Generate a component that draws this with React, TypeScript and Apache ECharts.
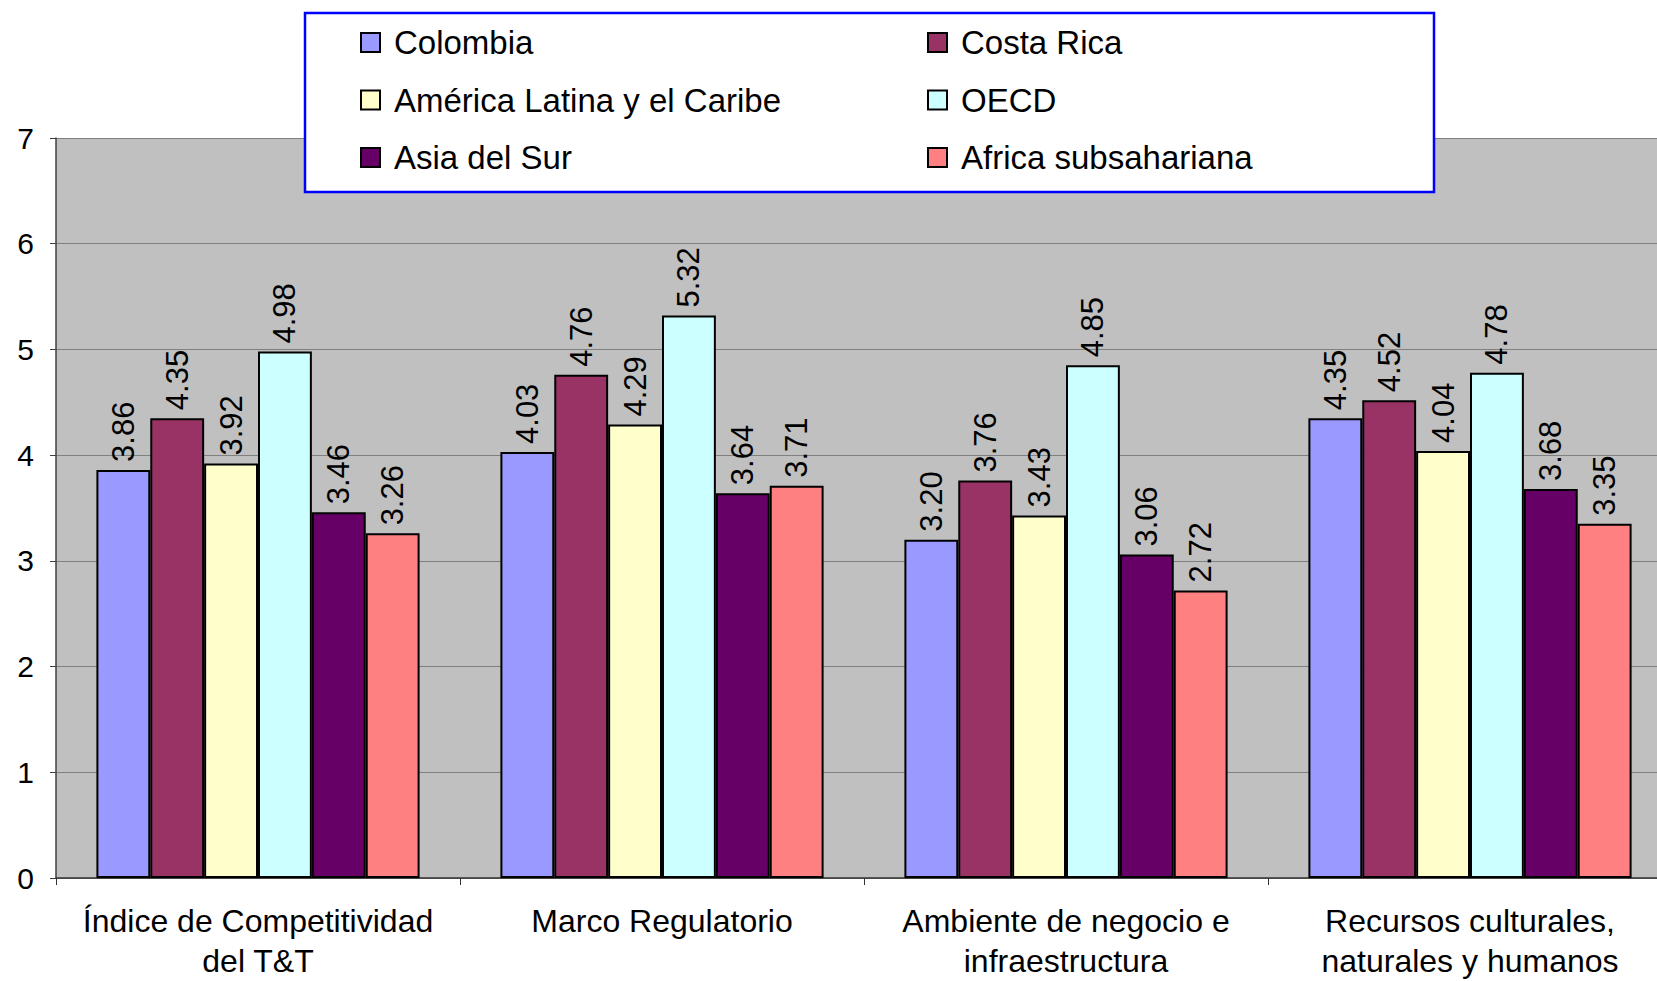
import React, { useEffect, useRef } from "react";
import * as echarts from "echarts";

const categories = [
  "Índice de Competitividad\ndel T&T",
  "Marco Regulatorio",
  "Ambiente de negocio e\ninfraestructura",
  "Recursos culturales,\nnaturales y humanos",
];
const seriesNames = [
  "Colombia",
  "Costa Rica",
  "América Latina y el Caribe",
  "OECD",
  "Asia del Sur",
  "Africa subsahariana",
];
const colombia = [3.86, 4.03, 3.2, 4.35];
const costaRica = [4.35, 4.76, 3.76, 4.52];
const americaLatina = [3.92, 4.29, 3.43, 4.04];
const oecd = [4.98, 5.32, 4.85, 4.78];
const asiaSur = [3.46, 3.64, 3.06, 3.68];
const africa = [3.26, 3.71, 2.72, 3.35];
const yTicks = [0, 1, 2, 3, 4, 5, 6, 7];

const colors = ["#9999FF", "#993366", "#FFFFCC", "#CCFFFF", "#660066", "#FF8080"];
const values = [colombia, costaRica, americaLatina, oecd, asiaSur, africa];
const FONT = "'Liberation Sans', Arial, sans-serif";

export default function App() {
  const ref = useRef<HTMLDivElement>(null);
  useEffect(() => {
    if (!ref.current) return;
    const chart = echarts.init(ref.current, null, { renderer: "svg" });
    const legendText = {
      fontSize: 33,
      fontFamily: FONT,
      color: "#000",
      lineHeight: 30,
      padding: [0, 0, 0, 9],
    };
    chart.setOption({
      animation: false,
      backgroundColor: "#fff",
      textStyle: { fontFamily: FONT },
      grid: {
        left: 56,
        top: 138,
        bottom: 103,
        width: 1616,
        outerBoundsMode: "none",
        containLabel: false,
        show: true,
        backgroundColor: "#C0C0C0",
        borderWidth: 0,
      },
      graphic: [
        {
          type: "rect",
          z: 10,
          shape: { x: 305, y: 13, width: 1129, height: 179 },
          style: { fill: "#fff", stroke: "#0000FF", lineWidth: 2.5 },
        },
      ],
      legend: [
        {
          z: 20,
          orient: "vertical",
          left: 360,
          top: 26,
          padding: 0,
          itemGap: 24.5,
          itemWidth: 19,
          itemHeight: 19,
          icon: "rect",
          itemStyle: { borderColor: "#000", borderWidth: 2 },
          textStyle: legendText,
          data: [seriesNames[0], seriesNames[2], seriesNames[4]],
        },
        {
          z: 20,
          orient: "vertical",
          left: 927,
          top: 26,
          padding: 0,
          itemGap: 24.5,
          itemWidth: 19,
          itemHeight: 19,
          icon: "rect",
          itemStyle: { borderColor: "#000", borderWidth: 2 },
          textStyle: legendText,
          data: [seriesNames[1], seriesNames[3], seriesNames[5]],
        },
      ],
      xAxis: {
        type: "category",
        data: categories,
        axisLine: { show: true, lineStyle: { color: "#333", width: 1.5 } },
        axisTick: { show: true, length: 7, lineStyle: { color: "#333" } },
        axisLabel: {
          interval: 0,
          margin: 23,
          fontSize: 32,
          lineHeight: 40,
          color: "#000",
          fontFamily: FONT,
          hideOverlap: false,
        },
        splitLine: { show: false },
      },
      yAxis: {
        type: "value",
        min: yTicks[0],
        max: yTicks[yTicks.length - 1],
        interval: 1,
        axisLine: { show: true, lineStyle: { color: "#404040", width: 1.5 } },
        axisTick: { show: true, length: 6, lineStyle: { color: "#404040" } },
        axisLabel: {
          margin: 22,
          fontSize: 30,
          color: "#000",
          fontFamily: FONT,
        },
        splitLine: { show: true, lineStyle: { color: "#808080", width: 1 } },
      },
      series: seriesNames.map((name, i) => ({
        name,
        type: "bar",
        data: values[i],
        barGap: "0%",
        barCategoryGap: "20%",
        itemStyle: { color: colors[i], borderColor: "#000", borderWidth: 2 },
        label: {
          show: true,
          position: "top",
          rotate: 90,
          align: "left",
          verticalAlign: "middle",
          distance: 8,
          fontSize: 31,
          fontFamily: FONT,
          color: "#000",
          formatter: (p: any) => Number(p.value).toFixed(2),
        },
      })),
    });
    return () => chart.dispose();
  }, []);
  return (
    <div
      ref={ref}
      style={{ position: "fixed", left: 0, top: 0, width: 1657, height: 981 }}
    />
  );
}
